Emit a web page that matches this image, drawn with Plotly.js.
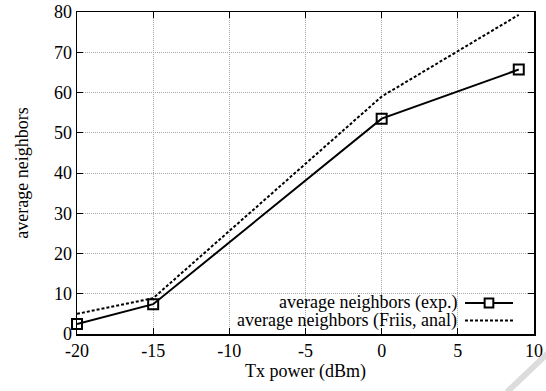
<!DOCTYPE html>
<html>
<head>
<meta charset="utf-8">
<script src="https://cdn.plot.ly/plotly-3.0.1.min.js"></script>
<style>html,body{margin:0;padding:0;background:#fff}#chart{width:546px;height:391px}</style>
</head>
<body>
<div id="chart"></div>
<script>
var txPower = [-20, -15, 0, 9];
var neighborsExp = [2.5, 7.4, 53.5, 65.7];
var friisPower = [-20, -15, 0, 9];
var neighborsFriis = [5.0, 8.9, 59.0, 79.3];
var seriesNames = ['average neighbors (exp.)', 'average neighbors (Friis, anal)'];
var xTicks = [-20, -15, -10, -5, 0, 5, 10];
var yTicks = [0, 10, 20, 30, 40, 50, 60, 70, 80];

var font = 'Liberation Serif, Times New Roman, serif';

var traces = [
  {x: friisPower, y: neighborsFriis, mode: 'lines', name: seriesNames[1],
   line: {color: '#000', width: 2, dash: '3px,2px'}, showlegend: false, cliponaxis: false},
  {x: txPower, y: neighborsExp, mode: 'lines+markers', name: seriesNames[0],
   line: {color: '#000', width: 2},
   marker: {symbol: 'square-open', size: 10, color: '#000', line: {width: 2, color: '#000'}},
   showlegend: false, cliponaxis: false}
];

var axisCommon = {
  showline: true, linecolor: '#000', linewidth: 1.5, mirror: 'allticks',
  ticks: 'inside', ticklen: 6, tickwidth: 1, tickcolor: '#000',
  showgrid: true, gridcolor: '#a8a8a8', gridwidth: 1, griddash: '1px,1px',
  zeroline: false, tickfont: {family: font, size: 18, color: '#000'}
};

var layout = {
  width: 546, height: 391,
  margin: {l: 77, r: 12, t: 12, b: 57},
  paper_bgcolor: '#fff', plot_bgcolor: '#fff',
  showlegend: false,
  font: {family: font, size: 18, color: '#000'},
  xaxis: Object.assign({}, axisCommon, {
    range: [-20, 10], tickvals: xTicks, ticktext: xTicks.map(String),
    title: {text: 'Tx power (dBm)', font: {family: font, size: 18}, standoff: 1}
  }),
  yaxis: Object.assign({}, axisCommon, {
    range: [0, 80], tickvals: yTicks, ticktext: yTicks.map(String),
    title: {text: 'average neighbors', font: {family: font, size: 18}, standoff: 20}
  }),
  shapes: [
    {type: 'rect', xref: 'paper', yref: 'paper', x0: 0.09, x1: 0.985, y0: 0.003, y1: 0.13,
     fillcolor: '#fff', line: {width: 0}, layer: 'between'},
    {type: 'line', xref: 'paper', yref: 'paper', x0: 0.849, x1: 0.954, y0: 0.096, y1: 0.096,
     line: {color: '#000', width: 2}},
    {type: 'rect', xref: 'paper', yref: 'paper', x0: 0.892, x1: 0.911, y0: 0.082, y1: 0.110,
     fillcolor: '#fff', line: {color: '#000', width: 2}},
    {type: 'line', xref: 'paper', yref: 'paper', x0: 0.849, x1: 0.954, y0: 0.042, y1: 0.042,
     line: {color: '#000', width: 2, dash: '3px,2px'}},
    {type: 'line', xref: 'paper', yref: 'paper', x0: 0.941, x1: 1.03, y0: -0.18, y1: -0.06,
     line: {color: '#dcdcdc', width: 6}}
  ],
  annotations: [
    {xref: 'paper', yref: 'paper', x: 0.834, y: 0.097, xanchor: 'right', yanchor: 'middle',
     text: seriesNames[0], showarrow: false, borderpad: 0, font: {family: font, size: 18, color: '#000'}},
    {xref: 'paper', yref: 'paper', x: 0.834, y: 0.041, xanchor: 'right', yanchor: 'middle',
     text: seriesNames[1], showarrow: false, borderpad: 0, font: {family: font, size: 18, color: '#000'}}
  ]
};

Plotly.newPlot('chart', traces, layout, {displayModeBar: false, staticPlot: true});
</script>
</body>
</html>
